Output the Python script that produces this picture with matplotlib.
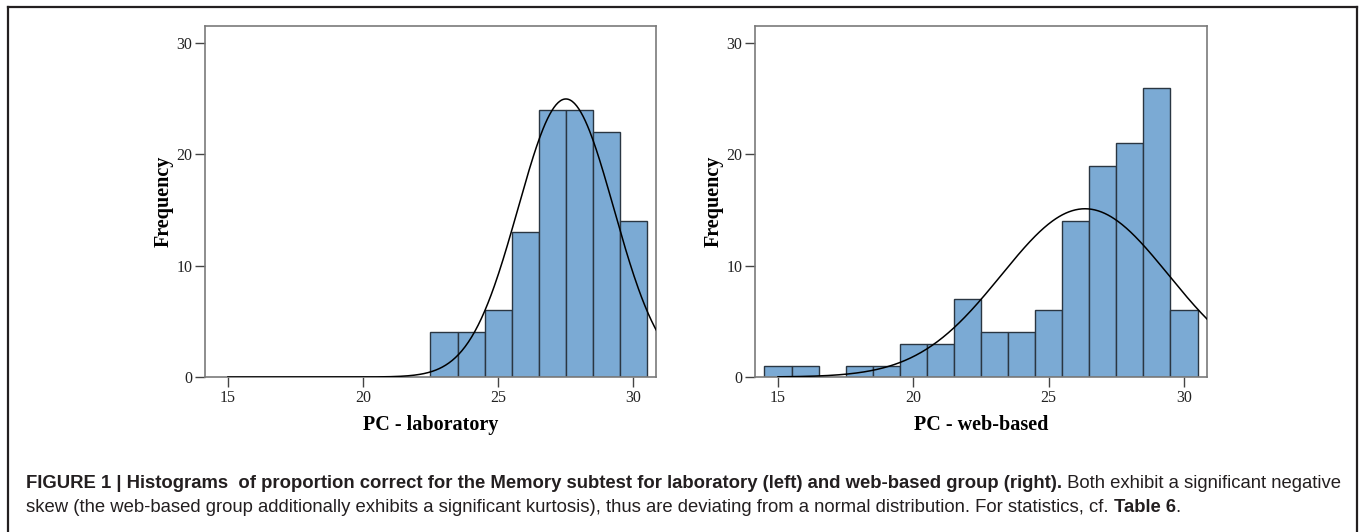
import numpy as np
import matplotlib
matplotlib.use('Agg')
import matplotlib.pyplot as plt
from matplotlib.lines import Line2D

# bin centres (width 1) and counts
lab_bins = [23, 24, 25, 26, 27, 28, 29, 30]
lab_counts = [4, 4, 6, 13, 24, 24, 22, 14]

web_bins = [15, 16, 17, 18, 19, 20, 21, 22, 23, 24, 25, 26, 27, 28, 29, 30]
web_counts = [1, 1, 0, 1, 1, 3, 3, 7, 4, 4, 6, 14, 19, 21, 26, 6]

x_ticks = [15, 20, 25, 30]
y_ticks = [0, 10, 20, 30]

bar_color = '#7BAAD4'
edge_color = '#2A3642'
spine_color = '#7a7a7a'
serif = ['Liberation Serif', 'DejaVu Serif']

fig = plt.figure(figsize=(13.6, 5.32), dpi=100)
W, H = 1360, 532


def panel(left_px, right_px, bins, counts, xlabel):
    ax = fig.add_axes([left_px / W, 1 - 377 / H, (right_px - left_px) / W, (377 - 25.7) / H])
    ax.bar(bins, counts, width=1.0, color=bar_color, edgecolor=edge_color, linewidth=1.0, zorder=2)
    # normal curve from the binned data
    vals = np.repeat(bins, counts)
    m = vals.mean()
    s = vals.std(ddof=1)
    n = len(vals)
    xs = np.linspace(15, 31, 400)
    ys = n / (s * np.sqrt(2 * np.pi)) * np.exp(-0.5 * ((xs - m) / s) ** 2)
    ax.plot(xs, ys, color='black', linewidth=1.1, zorder=3)
    ax.set_xlim(14.15, 30.85)
    ax.set_ylim(0, 31.56)
    ax.set_xticks(x_ticks)
    ax.set_yticks(y_ticks)
    for sp in ax.spines.values():
        sp.set_color(spine_color)
        sp.set_linewidth(1.2)
    ax.tick_params(direction='out', length=7, width=1.0, color='#444444', pad=2,
                   labelsize=11.5, labelcolor='#222222')
    for lb in ax.get_xticklabels() + ax.get_yticklabels():
        lb.set_family(serif)
    ax.set_xlabel(xlabel, family=serif, fontsize=14.5, fontweight='bold', labelpad=7)
    ax.set_ylabel('Frequency', family=serif, fontsize=14.5, fontweight='bold', labelpad=2)
    return ax


panel(205, 656, lab_bins, lab_counts, 'PC - laboratory')
panel(755, 1207, web_bins, web_counts, 'PC - web-based')

# outer frame (open at the bottom)
frame_kw = dict(color='#231F20', linewidth=1.6, transform=fig.transFigure)
fig.add_artist(Line2D([8 / W, 8 / W], [0, 1 - 7 / H], **frame_kw))
fig.add_artist(Line2D([8 / W, 1357 / W], [1 - 7 / H, 1 - 7 / H], **frame_kw))
fig.add_artist(Line2D([1357 / W, 1357 / W], [1 - 7 / H, 0], **frame_kw))

# caption, mixing bold and regular pieces
cap_font = ['Liberation Sans', 'DejaVu Sans']
cap_size = 13.3
cap_color = '#231F20'
lines = [
    [('FIGURE 1 | Histograms  of proportion correct for the Memory subtest for laboratory (left) and web-based group (right).', 'bold'),
     (' Both exhibit a significant negative', 'normal')],
    [('skew (the web-based group additionally exhibits a significant kurtosis), thus are deviating from a normal distribution. For statistics, cf. ', 'normal'),
     ('Table 6', 'bold'),
     ('.', 'normal')],
]
line_y = [483, 507]

fig.canvas.draw()
renderer = fig.canvas.get_renderer()
for parts, yy in zip(lines, line_y):
    x = 26.0
    for txt, wt in parts:
        t = fig.text(x / W, 1 - yy / H, txt, family=cap_font, fontsize=cap_size, fontweight=wt,
                     color=cap_color, va='center', ha='left')
        bb = t.get_window_extent(renderer=renderer)
        x += bb.width

fig.savefig('out.png', dpi=100)
